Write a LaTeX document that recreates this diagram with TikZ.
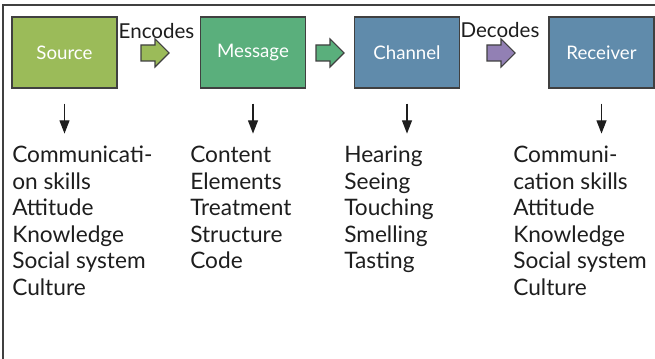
\documentclass[tikz,border=0pt]{standalone}
\usepackage{fontspec}
\setmainfont{Lato}
\usetikzlibrary{arrows.meta}

\definecolor{srcgreen}{RGB}{155,187,89}
\definecolor{msggreen}{RGB}{90,175,124}
\definecolor{chanblue}{RGB}{96,139,171}
\definecolor{decpurple}{RGB}{146,128,180}
\definecolor{edge}{RGB}{64,64,64}
\definecolor{ink}{RGB}{30,30,30}

\tikzset{
  stage/.style={draw=edge, line width=0.9pt, minimum width=78.75pt, minimum height=53.25pt,
    inner sep=0pt, text=white, font=\fontsize{14}{16}\selectfont},
  flow/.style={draw=edge, line width=0.8pt, line join=miter},
  steplabel/.style={text=ink, inner sep=0pt, anchor=base, font=\fontsize{15.4}{17}\selectfont},
  drop/.style={draw=ink, line width=1pt, -{Triangle[length=10pt,width=7.5pt]}},
  % the base anchor of a multi-line node sits on its last line
  itemlist/.style={text=ink, inner sep=0pt, anchor=base west, align=left,
    font=\fontsize{17}{19.8}\selectfont}
}

\begin{document}
\begin{tikzpicture}[x=0.75pt,y=-0.75pt]
  \useasboundingbox (0,0) rectangle (655,359);
  \fill[white] (0,0) rectangle (655,359);

  % frame (top and left edges)
  \draw[edge, line width=1.1pt] (3,359) -- (3,5) -- (656,5);

  % stages
  \node[stage, fill=srcgreen] (source)   at (64.5,52.5) {Source};
  \node[stage, fill=msggreen] (message)  at (253,52.5)  {Message};
  \node[stage, fill=chanblue] (channel)  at (407,52.5)  {Channel};
  \node[stage, fill=chanblue] (receiver) at (601.5,52.5) {Receiver};

  % block arrows between stages, drawn round their centres
  \coordinate (enc) at (155,53);
  \coordinate (mid) at (330,53);
  \coordinate (dec) at (501,53);
  \foreach \c/\col in {enc/srcgreen, mid/msggreen, dec/decpurple}{
    \draw[flow, fill=\col]
      ([shift={(-14,-8)}]\c) -- ([shift={(0,-8)}]\c) -- ([shift={(0,-14)}]\c)
      -- ([shift={(14,0)}]\c) -- ([shift={(0,14)}]\c) -- ([shift={(0,8)}]\c)
      -- ([shift={(-14,8)}]\c) -- cycle;
  }
  \node[steplabel] (enctext) at (156.5,39) {Encodes};
  \node[steplabel] (dectext) at (500,37.5) {Decodes};

  % downward arrows
  \foreach \s in {source,message,channel,receiver}{
    \coordinate (\s-top) at ([yshift=-11.25pt]\s.south);
    \coordinate (\s-tip) at ([yshift=-33.75pt]\s.south);
    \draw[drop] (\s-top) -- (\s-tip);
  }

  % lists of elements (placed by the baseline of their last line)
  \node[itemlist] (srclist)  at (12,295)  {Communicati-\\on skills\\Attitude\\Knowledge\\Social system\\Culture};
  \node[itemlist] (msglist)  at (190,268.6) {Content\\Elements\\Treatment\\Structure\\Code};
  \node[itemlist] (chanlist) at (344,268.6) {Hearing\\Seeing\\Touching\\Smelling\\Tasting};
  \node[itemlist] (reclist)  at (513,295)  {Communi-\\cation skills\\Attitude\\Knowledge\\Social system\\Culture};
\end{tikzpicture}
\end{document}
